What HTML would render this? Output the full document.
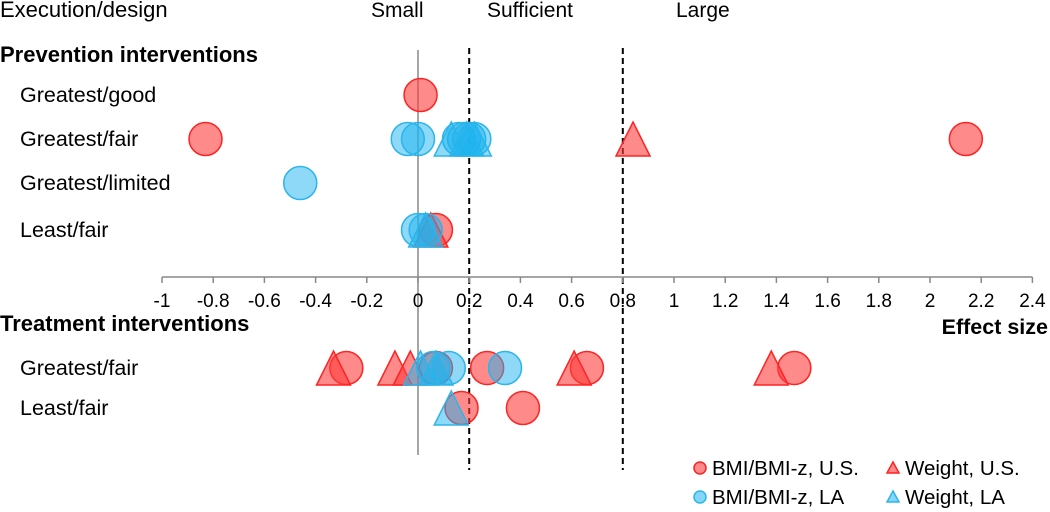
<!DOCTYPE html>
<html><head><meta charset="utf-8"><style>
html,body{margin:0;padding:0;background:#fff;}
svg{display:block;font-family:"Liberation Sans",Arial,sans-serif;}
</style></head><body>
<svg id="chart" width="1050" height="512" viewBox="0 0 1050 512">
  <text x="0" y="17" font-size="22" fill="#000">Execution/design</text>
  <text x="371" y="17" font-size="21">Small</text>
  <text x="487" y="17" font-size="21">Sufficient</text>
  <text x="676" y="17" font-size="21">Large</text>
  <text x="0" y="62" font-size="22" font-weight="bold">Prevention interventions</text>
  <text x="0" y="331" font-size="22" font-weight="bold">Treatment interventions</text>
  <text x="1048" y="334" font-size="21.5" font-weight="bold" text-anchor="end">Effect size</text>
  <g id="axes"></g>
  <g id="marks"></g>
  <g id="legend">
    <circle cx="700" cy="468" r="6" fill="rgba(255,60,60,0.6)" stroke="#f22" stroke-width="1.5"/>
    <text x="712" y="475" font-size="20.5">BMI/BMI-z, U.S.</text>
    <circle cx="700" cy="497" r="6" fill="rgba(30,180,240,0.55)" stroke="#2bb5ea" stroke-width="1.5"/>
    <text x="712" y="504" font-size="20.5">BMI/BMI-z, LA</text>
    <polygon points="893,462 887,473 899,473" fill="rgba(255,60,60,0.6)" stroke="#f22" stroke-width="1.5"/>
    <text x="905" y="475" font-size="20.5">Weight, U.S.</text>
    <polygon points="893,491 887,502 899,502" fill="rgba(30,180,240,0.55)" stroke="#2bb5ea" stroke-width="1.5"/>
    <text x="905" y="504" font-size="20.5">Weight, LA</text>
  </g>
</svg>
<script>
const ticks = [-1,-0.8,-0.6,-0.4,-0.2,0,0.2,0.4,0.6,0.8,1,1.2,1.4,1.6,1.8,2,2.2,2.4];
const tickLabels = ["-1","-0.8","-0.6","-0.4","-0.2","0","0.2","0.4","0.6","0.8","1","1.2","1.4","1.6","1.8","2","2.2","2.4"];
const rows = ["Greatest/good","Greatest/fair","Greatest/limited","Least/fair","Greatest/fair","Least/fair"];
const rowY = [95,139,183,230,368,408];
const thresholds = [0.2,0.8];
// each point: [rowIndex, value]
const bmiUS = [[0,0.01],[1,-0.83],[1,2.14],[3,0.07],[4,-0.28],[4,0.07],[4,0.27],[4,0.66],[4,1.47],[5,0.17],[5,0.41]];
const bmiLA = [[1,-0.04],[1,0.0],[1,0.16],[1,0.18],[1,0.2],[1,0.22],[2,-0.46],[3,0.0],[3,0.03],[4,0.06],[4,0.12],[4,0.34]];
const weightUS = [[1,0.84],[3,0.05],[4,-0.33],[4,-0.09],[4,-0.03],[4,0.61],[4,1.38]];
const weightLA = [[1,0.13],[1,0.19],[1,0.22],[3,0.03],[4,0.01],[4,0.07],[5,0.13]];

const NS="http://www.w3.org/2000/svg";
const X = v => 418 + v*256;
const axisY = 277;
const axes=document.getElementById('axes'), marks=document.getElementById('marks');
function mk(t,a,p){const e=document.createElementNS(NS,t);for(const k in a)e.setAttribute(k,a[k]);p.appendChild(e);return e;}

let l=mk('line',{x1:X(0),x2:X(0),y1:50,y2:455,stroke:'#888','stroke-width':1.5},axes);


thresholds.forEach(t=>{
  const d=mk('line',{x1:X(t),x2:X(t),y1:48,y2:470,stroke:'#000','stroke-width':2,'stroke-dasharray':'6,4'},axes);
  
  
});
const ax=mk('line',{x1:X(-1),x2:X(2.4),y1:axisY,y2:axisY,stroke:'#888','stroke-width':1.5},axes);


ticks.forEach((t,i)=>{
  const tk=mk('line',{x1:X(t),x2:X(t),y1:axisY,y2:axisY+6,stroke:'#888','stroke-width':1.5},axes);
  
  
  const tx=mk('text',{x:X(t),y:307,'font-size':19,'text-anchor':'middle'},axes);
  tx.textContent=tickLabels[i];
  
  
});
rows.forEach((r,i)=>{
  const tx=mk('text',{x:20,y:rowY[i]+7,'font-size':21.5},axes);
  tx.textContent=r;
  
  
});
const RED={fill:'rgba(255,60,60,0.6)',stroke:'#f22'}, BLUE={fill:'rgba(30,180,240,0.5)',stroke:'#2bb5ea'};
function circles(arr,c,name){arr.forEach(p=>{
  const e=mk('circle',{cx:X(p[1]),cy:rowY[p[0]],r:16.5,fill:c.fill,stroke:c.stroke,'stroke-width':1.5},marks);
  
  
});}
function tris(arr,c,name){arr.forEach(p=>{
  const x=X(p[1]),y=rowY[p[0]];
  const e=mk('polygon',{points:`${x},${y-17} ${x-17},${y+17} ${x+17},${y+17}`,fill:c.fill,stroke:c.stroke,'stroke-width':1.5},marks);
  
  
});}
circles(bmiUS,RED,'bmi-us-point');
tris(weightUS,RED,'weight-us-point');
circles(bmiLA,BLUE,'bmi-la-point');
tris(weightLA,BLUE,'weight-la-point');
</script>
</body></html>
